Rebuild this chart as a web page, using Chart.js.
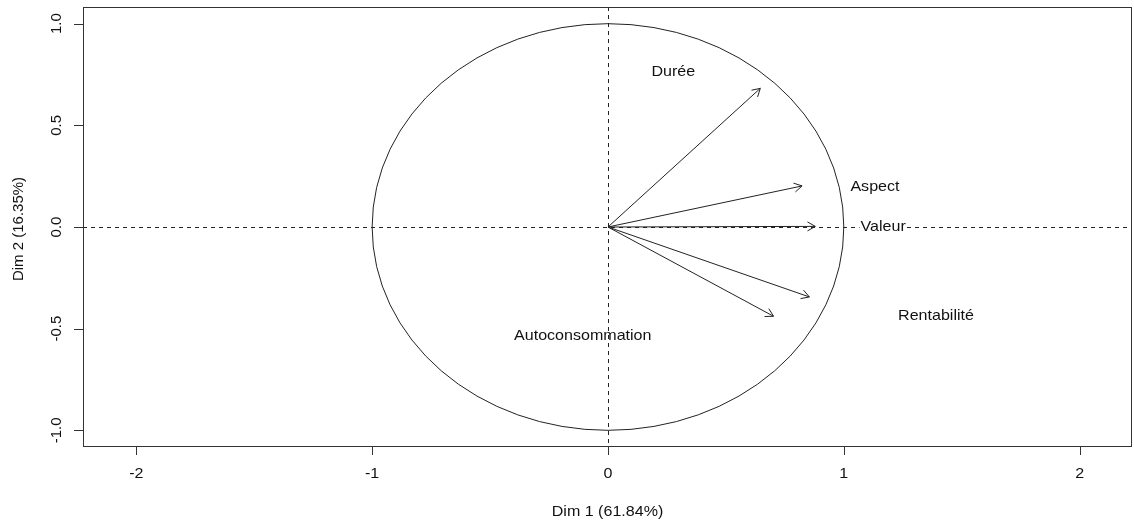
<!DOCTYPE html>
<html><head><meta charset="utf-8">
<script src="https://cdn.jsdelivr.net/npm/chart.js@4/dist/chart.umd.min.js"></script>
<style>html,body{margin:0;padding:0;background:#fff;}#wrap{width:1134px;height:521px;}</style>
</head><body><div id="wrap"><canvas id="c" width="1134" height="521"></canvas></div>
<script>
// ---- data ----
const variables = ['Durée', 'Aspect', 'Valeur', 'Rentabilité', 'Autoconsommation'];
const dim1 = [0.646, 0.823, 0.879, 0.854, 0.702];
const dim2 = [0.682, 0.202, 0.003, -0.344, -0.439];
const labelDim1 = [0.277, 1.132, 1.167, 1.391, -0.107];
const labelDim2 = [0.761, 0.197, 0.0, -0.438, -0.533];
const xTicks = [-2, -1, 0, 1, 2];
const xTickLabels = ['-2', '-1', '0', '1', '2'];
const yTicks = [-1.0, -0.5, 0.0, 0.5, 1.0];
const yTickLabels = ['-1.0', '-0.5', '0.0', '0.5', '1.0'];
const xTitle = 'Dim 1 (61.84%)';
const yTitle = 'Dim 2 (16.35%)';
const xRange = [-2.226, 2.222];
const yRange = [-1.082, 1.082];

// ---- drawing ----
const FONT = '15px "Liberation Sans", Arial, sans-serif';
const STRETCH = 1.07;
const haloLabels = new Set(['Valeur']);

function hText(ctx, txt, x, y, align, baseline, halo) {
  ctx.save();
  ctx.translate(x, y);
  ctx.scale(STRETCH, 1);
  ctx.font = FONT;
  ctx.textAlign = align;
  ctx.textBaseline = baseline;
  if (halo) {
    const w = ctx.measureText(txt).width;
    ctx.fillStyle = '#fff';
    ctx.fillRect(-w / 2 - 1, -9, w + 2, 18);
  }
  ctx.fillStyle = '#111';
  ctx.fillText(txt, 0, 0);
  ctx.restore();
}
function vText(ctx, txt, x, y) {
  ctx.save();
  ctx.translate(x, y);
  ctx.rotate(-Math.PI / 2);
  ctx.font = FONT;
  ctx.textAlign = 'center';
  ctx.textBaseline = 'alphabetic';
  ctx.fillStyle = '#111';
  ctx.fillText(txt, 0, 0);
  ctx.restore();
}

const rPlot = {
  id: 'rPlot',
  beforeDatasetsDraw(chart) {
    const { ctx, chartArea: a, scales: { x, y } } = chart;
    const cx = x.getPixelForValue(0), cy = y.getPixelForValue(0);
    ctx.save();
    ctx.beginPath(); ctx.rect(a.left, a.top, a.right - a.left, a.bottom - a.top); ctx.clip();
    // dashed reference lines
    ctx.strokeStyle = '#222'; ctx.lineWidth = 1; ctx.setLineDash([4, 4]);
    ctx.beginPath();
    ctx.moveTo(a.left, Math.round(cy) + 0.5); ctx.lineTo(a.right, Math.round(cy) + 0.5);
    ctx.moveTo(Math.round(cx) + 0.5, a.top); ctx.lineTo(Math.round(cx) + 0.5, a.bottom);
    ctx.stroke();
    ctx.setLineDash([]);
    // correlation circle (radius 1 in data units)
    const rx = x.getPixelForValue(1) - cx, ry = cy - y.getPixelForValue(1);
    ctx.strokeStyle = '#222';
    ctx.beginPath(); ctx.ellipse(cx, cy, rx, ry, 0, 0, Math.PI * 2); ctx.stroke();
    ctx.restore();
  },
  afterDatasetsDraw(chart) {
    const { ctx, chartArea: a, scales: { x, y } } = chart;
    const ox = x.getPixelForValue(0), oy = y.getPixelForValue(0);
    // arrowheads
    ctx.save();
    ctx.strokeStyle = '#222'; ctx.lineWidth = 1;
    for (let i = 0; i < variables.length; i++) {
      const tx = x.getPixelForValue(dim1[i]), ty = y.getPixelForValue(dim2[i]);
      const ang = Math.atan2(ty - oy, tx - ox), L = 9, h = Math.PI / 6;
      ctx.beginPath();
      ctx.moveTo(tx - L * Math.cos(ang - h), ty - L * Math.sin(ang - h));
      ctx.lineTo(tx, ty);
      ctx.lineTo(tx - L * Math.cos(ang + h), ty - L * Math.sin(ang + h));
      ctx.stroke();
    }
    ctx.restore();
    // variable labels
    for (let i = 0; i < variables.length; i++) {
      hText(ctx, variables[i], x.getPixelForValue(labelDim1[i]), y.getPixelForValue(labelDim2[i]),
        'center', 'middle', haloLabels.has(variables[i]));
    }
    // box
    ctx.save();
    ctx.strokeStyle = '#333'; ctx.lineWidth = 1;
    ctx.strokeRect(a.left + 0.5, a.top + 0.5, a.right - a.left - 1, a.bottom - a.top - 1);
    // ticks
    ctx.beginPath();
    xTicks.forEach(v => { const px = Math.round(x.getPixelForValue(v)) + 0.5; ctx.moveTo(px, a.bottom); ctx.lineTo(px, a.bottom + 8); });
    yTicks.forEach(v => { const py = Math.round(y.getPixelForValue(v)) + 0.5; ctx.moveTo(a.left, py); ctx.lineTo(a.left - 9, py); });
    ctx.stroke();
    ctx.restore();
    xTicks.forEach((v, i) => hText(ctx, xTickLabels[i], x.getPixelForValue(v), a.bottom + 31, 'center', 'alphabetic', false));
    yTicks.forEach((v, i) => vText(ctx, yTickLabels[i], a.left - 22, y.getPixelForValue(v)));
    hText(ctx, xTitle, (a.left + a.right) / 2, a.bottom + 69, 'center', 'alphabetic', false);
    vText(ctx, yTitle, 23, (a.top + a.bottom) / 2 + 2);
  }
};

const datasets = variables.map((name, i) => ({
  label: name,
  data: [{ x: 0, y: 0 }, { x: dim1[i], y: dim2[i] }],
  showLine: true,
  borderColor: '#222',
  borderWidth: 1,
  pointRadius: 0,
  fill: false
}));

new Chart(document.getElementById('c'), {
  type: 'scatter',
  data: { datasets },
  options: {
    responsive: false,
    devicePixelRatio: 1,
    animation: false,
    layout: { padding: { left: 83, right: 2, top: 7, bottom: 74 } },
    plugins: { legend: { display: false }, tooltip: { enabled: false } },
    scales: {
      x: { type: 'linear', min: xRange[0], max: xRange[1], display: false },
      y: { type: 'linear', min: yRange[0], max: yRange[1], display: false }
    }
  },
  plugins: [rPlot]
});
</script>
</body></html>
